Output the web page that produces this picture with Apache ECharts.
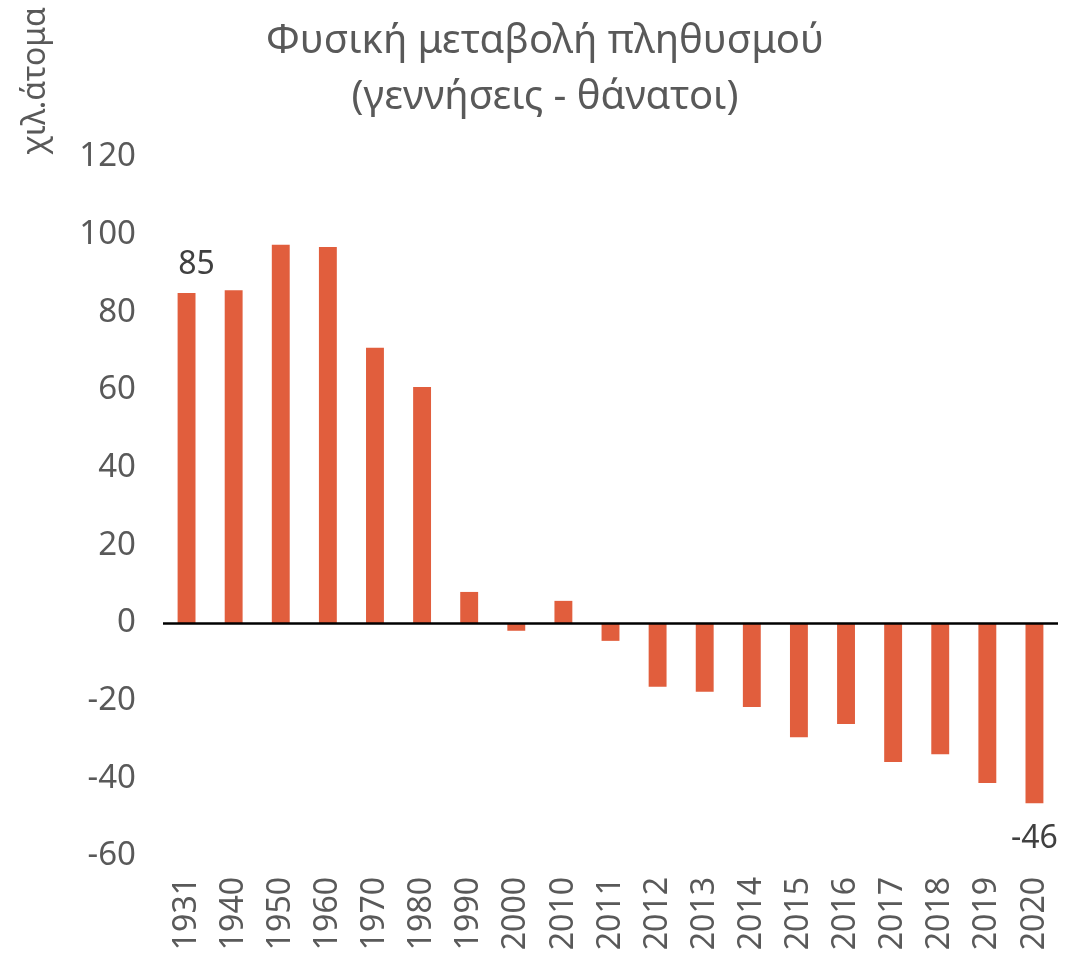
<!DOCTYPE html>
<html>
<head>
<meta charset="utf-8">
<script src="https://cdn.jsdelivr.net/npm/echarts@6/dist/echarts.min.js"></script>
<style>
	html, body { margin: 0; padding: 0; background: #fff; }
	#chart { width: 1081px; height: 957px; }
</style>
</head>
<body>
<div id="chart"></div>
<script>
const years = ["1931", "1940", "1950", "1960", "1970", "1980", "1990", "2000", "2010", "2011",
	"2012", "2013", "2014", "2015", "2016", "2017", "2018", "2019", "2020"];
const change = [85, 85.7, 97.4, 96.8, 70.9, 60.8, 8, -2, 5.7, -4.6,
	-16.4, -17.7, -21.6, -29.4, -26, -35.8, -33.8, -41.2, -46.4];
const labelled = { 0: "85", 18: "-46" };
const unitName = "χιλ.άτομα";

const font = "'Noto Sans', 'DejaVu Sans', sans-serif";
const chart = echarts.init(document.getElementById("chart"));

const barData = change.map((v, i) => {
	if (!(i in labelled))
		return v;
	return {
		value : v,
		label : {
			show       : true,
			position   : v >= 0 ? "top" : "bottom",
			distance   : v >= 0 ? 12 : 20,
			offset     : v >= 0 ? [10, 0] : [0, 0],
			formatter  : labelled[i],
			color      : "#404040",
			fontSize   : 32,
			fontFamily : font,
		},
	};
});

chart.setOption({
	animation : false,
	title     : {
		text      : "Φυσική μεταβολή πληθυσμού\n(γεννήσεις - θάνατοι)",
		left      : 540,
		textAlign : "center",
		top       : 9,
		textStyle : {
			color      : "#595959",
			fontSize   : 40,
			fontWeight : "normal",
			fontFamily : font,
			lineHeight : 56,
		},
	},
	graphic: [
		{
			type     : "text",
			x        : 36,
			y        : 81,
			rotation : Math.PI / 2,
			style    : {
				text          : unitName,
				fill          : "#595959",
				font          : `32px ${font}`,
				textAlign     : "center",
				textVerticalAlign : "middle",
			},
		},
	],
	grid: {
		left   : 163,
		right  : 23,
		top    : 157,
		bottom : 101,
	},
	xAxis: {
		type      : "category",
		data      : years,
		axisLine  : { show: false, onZero: false },
		axisTick  : { show: false },
		axisLabel : {
			rotate     : 90,
			margin     : 21,
			color      : "#595959",
			fontSize   : 32,
			fontFamily : font,
			interval   : 0,
		},
	},
	yAxis: {
		type      : "value",
		min       : -60,
		max       : 120,
		interval  : 20,
		axisLine  : { show: false },
		axisTick  : { show: false },
		splitLine : { show: false },
		axisLabel : {
			margin     : 27,
			color      : "#595959",
			fontSize   : 33,
			fontFamily : font,
		},
	},
	series: [
		{
			type      : "bar",
			data      : barData,
			barWidth  : "38%",
			itemStyle : { color: "#E15E3D" },
			markLine  : {
				silent    : true,
				symbol    : ["none", "none"],
				label     : { show: false },
				lineStyle : { color: "#000", width: 2.5, type: "solid" },
				data      : [{ yAxis: 0 }],
			},
		},
	],
});
</script>
</body>
</html>
